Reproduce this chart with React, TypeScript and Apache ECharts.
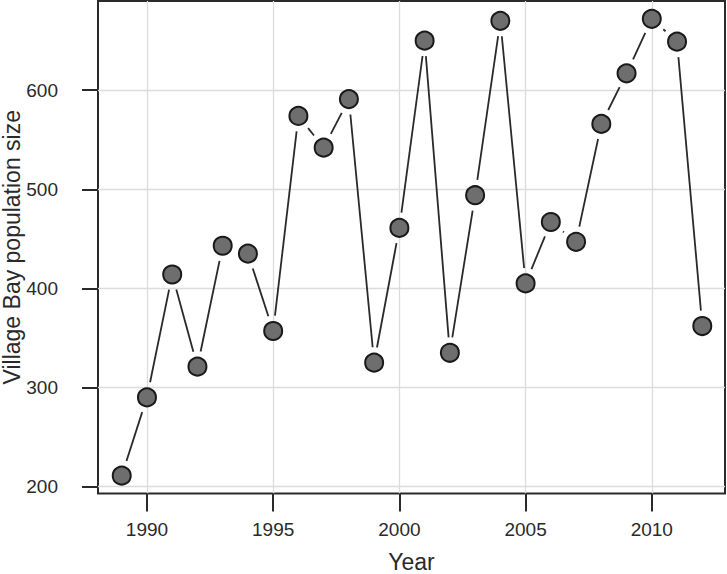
import React, { useEffect, useRef } from "react";
import * as echarts from "echarts";

const years = [1989, 1990, 1991, 1992, 1993, 1994, 1995, 1996, 1997, 1998, 1999, 2000, 2001, 2002, 2003, 2004, 2005, 2006, 2007, 2008, 2009, 2010, 2011, 2012];
const population = [211, 290, 414, 321, 443, 435, 357, 574, 542, 591, 325, 461, 650, 335, 494, 670, 405, 467, 447, 566, 617, 672, 649, 362];
const xTicks = [1990, 1995, 2000, 2005, 2010];
const yTicks = [200, 300, 400, 500, 600];
const xTitle = "Year";
const yTitle = "Village Bay population size";

const FONT = "'Liberation Sans', Arial, Helvetica, sans-serif";
const GAP = 15.5;

export default function App() {
  const ref = useRef<HTMLDivElement>(null);
  useEffect(() => {
    document.body.style.margin = "0";
    const chart = echarts.init(ref.current!, null, { renderer: "svg" });
    const points = years.map((y, i) => [y, population[i]]);
    const segments = years.slice(0, -1).map((y, i) => [y, population[i], years[i + 1], population[i + 1]]);
    chart.setOption({
      animation: false,
      backgroundColor: "#ffffff",
      grid: {
        left: 98,
        right: 2,
        top: 1,
        bottom: 80.5,
        show: true,
        borderColor: "#2a2a2a",
        borderWidth: 2,
        backgroundColor: "transparent",
        containLabel: false,
        outerBoundsMode: "none",
      },
      xAxis: {
        type: "value",
        min: 1988.06,
        max: 2012.9,
        name: xTitle,
        nameLocation: "middle",
        nameGap: 57,
        nameTextStyle: { fontSize: 23, color: "#2a2a2a", fontFamily: FONT },
        axisLine: { show: false },
        axisTick: { show: true, length: 18, lineStyle: { color: "#2a2a2a", width: 2 }, customValues: xTicks },
        axisLabel: {
          customValues: xTicks,
          margin: 26,
          fontSize: 19,
          color: "#2a2a2a",
          fontFamily: FONT,
          formatter: (v: number) => String(v),
        },
        splitLine: { show: true, lineStyle: { color: "#dcdcdc", width: 1.3 } },
      },
      yAxis: {
        type: "value",
        min: 193,
        max: 690,
        name: yTitle,
        nameLocation: "middle",
        nameRotate: 90,
        nameGap: 75,
        nameMoveOverlap: false,
        nameTextStyle: { fontSize: 23, color: "#2a2a2a", fontFamily: FONT },
        axisLine: { show: false },
        axisTick: { show: true, length: 16, lineStyle: { color: "#2a2a2a", width: 2 }, customValues: yTicks },
        axisLabel: {
          customValues: yTicks,
          margin: 40,
          fontSize: 19,
          color: "#2a2a2a",
          fontFamily: FONT,
          formatter: (v: number) => String(v),
        },
        splitLine: { show: true, lineStyle: { color: "#dcdcdc", width: 1.3 } },
      },
      series: [
        {
          type: "custom",
          data: segments,
          encode: { x: [0, 2], y: [1, 3] },
          z: 2,
          renderItem: (params: any, api: any) => {
            const p1 = api.coord([api.value(0), api.value(1)]);
            const p2 = api.coord([api.value(2), api.value(3)]);
            const dx = p2[0] - p1[0];
            const dy = p2[1] - p1[1];
            const len = Math.hypot(dx, dy);
            if (len <= 2 * GAP) return { type: "group", children: [] };
            const ux = dx / len;
            const uy = dy / len;
            return {
              type: "line",
              shape: {
                x1: p1[0] + ux * GAP,
                y1: p1[1] + uy * GAP,
                x2: p2[0] - ux * GAP,
                y2: p2[1] - uy * GAP,
              },
              style: { stroke: "#2a2a2a", lineWidth: 1.8 },
            };
          },
        },
        {
          type: "scatter",
          data: points,
          symbol: "circle",
          symbolSize: 18,
          z: 3,
          itemStyle: { color: "#6e6e6e", borderColor: "#1a1a1a", borderWidth: 2, opacity: 1 },
        },
      ],
    });
    return () => chart.dispose();
  }, []);
  return <div ref={ref} style={{ width: 727, height: 574 }} />;
}
